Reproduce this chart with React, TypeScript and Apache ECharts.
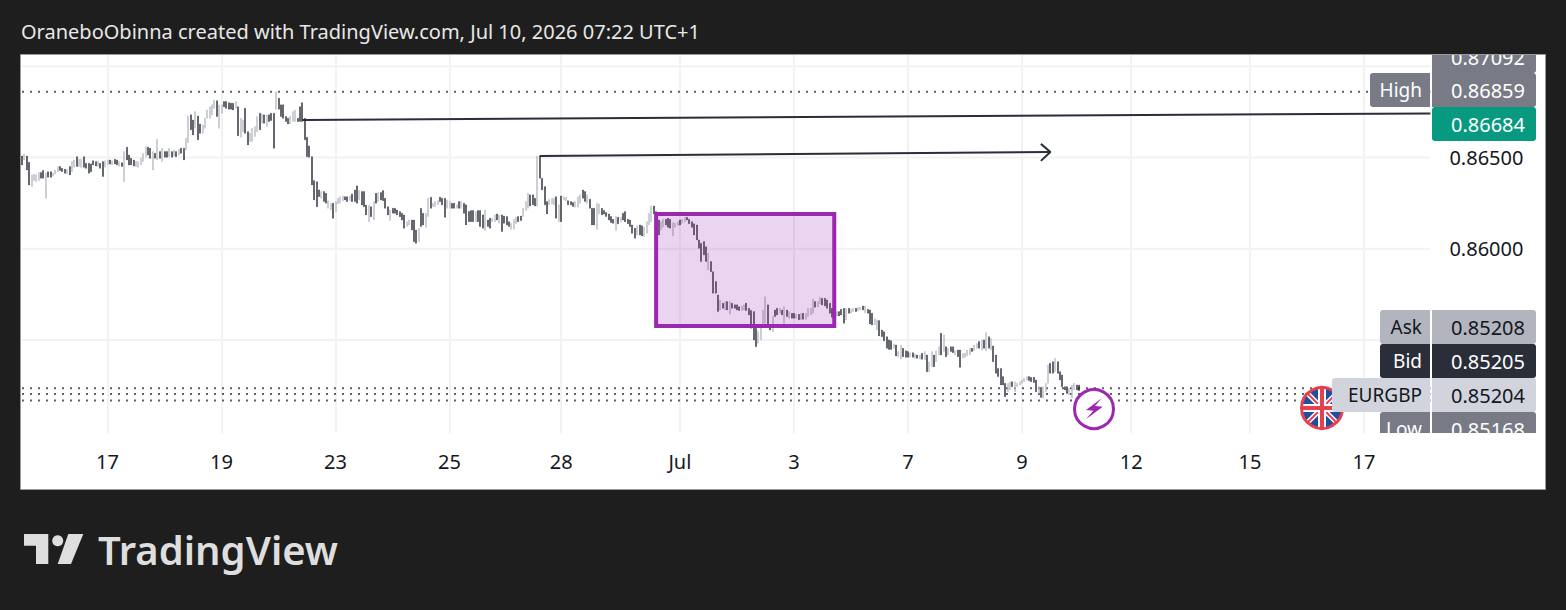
import React, { useEffect, useRef } from "react";
import * as echarts from "echarts";

// Prices in units of 0.00001
const opens = [
86508,86486,86508,86473,86340,86373,86367,86373,86417,86428,86276,86422,86422,86398,86409,86422,86450,86440,86435,86409,
86450,86422,86446,86504,86450,86446,86504,86468,86468,86464,86482,86477,86450,86468,86477,86446,86459,86486,86459,86490,
86486,86450,86471,86367,86556,86513,86495,86486,86450,86446,86459,86477,86504,86556,86550,86431,86523,86486,86532,86477,
86532,86532,86504,86532,86508,86532,86513,86550,86550,86541,86581,86733,86705,86660,86727,86683,86632,86660,86714,86714,
86733,86769,86811,86660,86742,86806,86806,86800,86797,86797,86769,86778,86610,86641,86769,86641,86587,86587,86614,86641,
86742,86687,86733,86669,86733,86742,86742,86764,86824,86788,86788,86724,86714,86683,86696,86696,86714,86778,86800,86714,
86610,86563,86504,86373,86367,86322,86276,86313,86303,86221,86212,86249,86203,86245,86249,86263,86285,86285,86263,86300,
86322,86344,86267,86313,86313,86239,86148,86230,86157,86303,86258,86307,86318,86276,86230,86154,86221,86221,86212,86203,
86194,86185,86121,86130,86157,86157,86102,86038,86221,86194,86117,86176,86282,86231,86231,86240,86282,86276,86276,86221,
86221,86249,86249,86221,86258,86221,86249,86240,86203,86209,86209,86148,86209,86209,86185,86099,86157,86167,86148,
86148,86190,86139,86185,86179,86176,86148,86106,86106,86136,86176,86179,86176,86209,86221,86295,86295,86276,86234,86508,
86386,86340,86258,86240,86245,86240,86285,86148,86289,86267,86263,86263,86258,86253,86227,86227,86249,86322,86313,
86249,86271,86221,86221,86106,86190,86221,86209,86198,86190,86176,86161,86099,86172,86148,86194,86203,86161,86157,86130,
86112,86075,86130,86125,86066,86084,86130,86148,86234,86203,86157,86103,86117,86161,86167,86161,86070,86117,86125,
86157,86139,86148,86172,86161,86148,86136,86130,86048,86030,86039,86011,85883,85929,85874,85820,85746,85664,85701,85664,
85710,85642,85701,85692,85692,85682,85661,85664,85701,85673,85661,85655,85564,85482,85500,85573,85591,85692,85582,85545,
85664,85673,85646,85664,85591,85664,85619,85646,85646,85619,85640,85610,85646,85613,85628,85637,85646,85710,85682,85697,85728,85728,85719,
85701,85673,85655,85631,85655,85668,85673,85609,85673,85646,85655,85673,85660,85664,85686,85649,85668,85664,85646,85582,
85554,85606,85554,85545,85518,85500,85496,85454,85472,85408,85394,85454,85441,85436,85405,85430,85399,85417,85394,
85427,85390,85417,85326,85353,85417,85381,85417,85536,85436,85463,85417,85463,85463,85417,85445,85445,85399,85405,85412,
85417,85454,85441,85454,85491,85445,85500,85441,85518,85445,85467,85417,85344,85344,85299,85262,85216,85226,85271,
85216,85244,85253,85262,85271,85280,85299,85295,85295,85280,85207,85240,85180,85216,85262,85372,85381,85326,85381,85326,
85308,85244,85244,85198,85180,85226,85253,85253,
];
const closes = [
86459,86519,86431,86349,86404,86409,86404,86417,86386,86386,86413,86391,86391,86413,86431,86450,86428,86422,86413,86435,
86404,86477,86486,86450,86490,86490,86446,86440,86413,86422,86459,86453,86477,86440,86395,86482,86486,86464,86482,86464,
86459,86477,86450,86532,86486,86459,86459,86453,86477,86477,86495,86523,86559,86513,86495,86532,86495,86599,86495,86550,
86501,86501,86550,86501,86541,86504,86545,86523,86486,86605,86727,86651,86623,86751,86596,86632,86678,86714,86760,86778,
86788,86815,86724,86788,86788,86778,86769,86764,86764,86760,86806,86618,86714,86705,86632,86568,86632,86660,86669,86724,
86651,86738,86687,86733,86696,86702,86550,86859,86764,86724,86714,86696,86683,86724,86751,86760,86696,86696,86696,86596,
86504,86501,86349,86267,86230,86285,86313,86258,86249,86263,86249,86166,86258,86276,86285,86289,86267,86258,86289,86258,
86258,86249,86318,86239,86230,86185,86239,86175,86258,86249,86307,86267,86263,86221,86185,86212,86194,86194,86185,86175,
86157,86112,86148,86157,86102,86038,86029,86112,86121,86130,86194,86276,86221,86249,86258,86263,86258,86240,86172,86267,
86258,86221,86221,86240,86221,86258,86194,86130,86148,86148,86148,86203,86148,86121,86112,86212,86121,86112,86167,
86185,86157,86185,86094,86139,86130,86121,86139,86161,86172,86148,86154,86221,86258,86304,86234,86240,86234,86508,86386,
86322,86240,86190,86271,86276,86276,86167,86240,86148,86285,86282,86240,86240,86231,86258,86285,86295,86276,86258,
86295,86221,86130,86130,86249,86245,86185,86190,86176,86157,86143,86139,86176,86136,86172,86157,86148,86136,86121,86084,
86057,86125,86075,86070,86117,86148,86194,86234,86190,86148,86075,86148,86161,86130,86117,86112,86143,86139,86148,
86130,86161,86172,86157,86136,86117,86075,86048,86002,85929,85966,85929,85975,85874,85756,85756,85655,85719,85673,85710,
85664,85710,85673,85673,85664,85661,85686,85692,85661,85637,85564,85500,85463,85546,85573,85664,85737,85582,85555,85628,
85628,85637,85673,85637,85682,85628,85655,85619,85619,85640,85610,85646,85613,85646,85673,85673,85723,85679,85710,85734,85691,85686,85673,
85646,85624,85628,85655,85631,85637,85591,85673,85646,85668,85673,85655,85677,85679,85664,85686,85646,85587,85582,85618,
85609,85522,85518,85496,85454,85448,85448,85478,85412,85436,85472,85408,85405,85405,85430,85405,85423,85399,85417,
85394,85436,85326,85381,85436,85353,85441,85463,85417,85527,85408,85454,85436,85430,85441,85408,85350,85427,85427,85445,
85454,85436,85472,85481,85454,85500,85454,85540,85454,85509,85381,85317,85299,85253,85253,85189,85262,85271,85244,
85271,85262,85271,85280,85290,85299,85277,85271,85266,85216,85244,85185,85244,85262,85363,85317,85317,85399,85317,85280,
85244,85226,85207,85235,85253,85262,85226,85222,
];

const timeTickIndexes = [36, 84, 132, 180, 227, 277, 325, 373, 421, 467, 517, 565];
const timeTickLabels = ["17", "19", "23", "25", "28", "Jul", "3", "7", "9", "12", "15", "17"];
const categoryCount = 594;

const priceGridLevels = [0.87, 0.865, 0.86, 0.855];
const priceLabelLevels = [0.865, 0.86];
const dottedLevels = [0.86859, 0.85235, 0.85204, 0.85168];

const boxCorners = [267, 0.8619, 342, 0.85576];
const longLine = [[118, 0.86705], [593, 0.86741]];
const arrowLine = [[218, 0.86508], [433, 0.8653]];
const arrowHead = [[429, 0.86574], [433, 0.8653], [429, 0.86481]];

const tagRows = [
  { label: "Ask", value: "0.85208", y: 310, h: 34, fill: "#b2b5be", text: "#131722", lx: 1380 },
  { label: "Bid", value: "0.85205", y: 344, h: 34, fill: "#2a2e39", text: "#ffffff", lx: 1380 },
  { label: "EURGBP", value: "0.85204", y: 378, h: 34, fill: "#d1d4dc", text: "#131722", lx: 1332 },
  { label: "Low", value: "0.85168", y: 412, h: 34, fill: "#787b86", text: "#ffffff", lx: 1380 },
  { label: "High", value: "0.86859", y: 73, h: 34, fill: "#787b86", text: "#ffffff", lx: 1370 },
];

const FONT = '"Noto Sans"';

function txt(text: string, x: number, y: number, size: number, fill: string, align = "left", z = 100, weight = "normal") {
  return {
    type: "text",
    z,
    silent: true,
    style: {
      text, x, y, fill,
      font: `${weight} ${size}px ${FONT}`,
      textAlign: align, align,
      textVerticalAlign: "middle", verticalAlign: "middle",
    },
  };
}

function App() {
  const ref = useRef<HTMLDivElement>(null);

  useEffect(() => {
    document.body.style.margin = "0";
    const chart = echarts.init(ref.current!, null, { renderer: "svg" });

    const categories = Array.from({ length: categoryCount }, (_, i) => {
      const k = timeTickIndexes.indexOf(i);
      return k >= 0 ? timeTickLabels[k] : "";
    });
    const showTick = (i: number) => timeTickIndexes.indexOf(i) >= 0;

    const candles = opens.map((o, i) => {
      const c = closes[i];
      return [o / 1e5, c / 1e5, Math.min(o, c) / 1e5, Math.max(o, c) / 1e5];
    });

    const line = (data: number[][], lineStyle: any, z: number) => ({
      type: "line", data, symbol: "none", showSymbol: false, silent: true, z, lineStyle,
    });

    const tagGraphics: any[] = [];
    tagRows.forEach((t) => {
      tagGraphics.push({ type: "rect", z: 90, silent: true, shape: { x: t.lx, y: t.y, width: 1430 - t.lx, height: t.h, r: [3, 0, 0, 3] }, style: { fill: t.fill } });
      tagGraphics.push({ type: "rect", z: 90, silent: true, shape: { x: 1432, y: t.y, width: 104, height: t.h, r: [0, 3, 3, 0] }, style: { fill: t.fill } });
      tagGraphics.push(txt(t.label, 1422, t.y + 17, 19, t.text, "right"));
      tagGraphics.push(txt(t.value, 1525, t.y + 17, 20, t.text, "right"));
    });

    const fc = { x: 1322, y: 408 };
    const flagLine = (x1: number, y1: number, x2: number, y2: number, stroke: string, w: number) => ({
      type: "line", z: 40, silent: true,
      shape: { x1: fc.x + x1, y1: fc.y + y1, x2: fc.x + x2, y2: fc.y + y2 },
      style: { stroke, lineWidth: w },
    });

    chart.setOption({
      animation: false,
      backgroundColor: "#1e1e1e",
      grid: { left: 22, width: 1408.4, top: 55, height: 378, containLabel: false },
      xAxis: {
        type: "category",
        data: categories,
        boundaryGap: false,
        axisLine: { show: false },
        axisTick: { show: false },
        axisLabel: {
          interval: (i: number) => showTick(i),
          margin: 18,
          color: "#131722",
          fontFamily: FONT,
          fontSize: 20,
          hideOverlap: false,
        },
        splitLine: {
          show: true,
          interval: (i: number) => showTick(i),
          lineStyle: { color: "#f2f2f2", width: 2 },
        },
      },
      yAxis: {
        type: "value",
        position: "right",
        min: 0.8499,
        max: 0.87061,
        axisLine: { show: false },
        axisTick: { show: false },
        splitLine: { show: false },
        axisLabel: {
          customValues: priceLabelLevels,
          formatter: (v: number) => v.toFixed(5),
          margin: 19,
          color: "#131722",
          fontFamily: FONT,
          fontSize: 20,
        },
      },
      series: [
        ...priceGridLevels.map((v) => line([[0, v], [593, v]], { color: "#f2f2f2", width: 2 }, 1)),
        ...dottedLevels.map((v) => line([[0, v], [593, v]], { color: "#5d606b", width: 2, type: [2, 6] }, 1)),
        {
          type: "candlestick",
          data: candles,
          barWidth: 1.5,
          z: 3,
          silent: true,
          itemStyle: { color: "#b2b5be", color0: "#131722", borderColor: "#b2b5be", borderColor0: "#131722", borderWidth: 0.3 },
        },
        {
          type: "custom",
          z: 5,
          silent: true,
          clip: false,
          data: [boxCorners],
          encode: { x: 0, y: 1 },
          renderItem: (_: any, api: any) => {
            const a = api.coord([api.value(0), api.value(1)]);
            const b = api.coord([api.value(2), api.value(3)]);
            return {
              type: "rect",
              shape: { x: a[0], y: a[1], width: b[0] - a[0], height: b[1] - a[1] },
              style: { fill: "rgba(156,39,176,0.2)", stroke: "#9c27b0", lineWidth: 4 },
            };
          },
        },
        line(longLine, { color: "#2a2e39", width: 2 }, 6),
        line(arrowLine, { color: "#2a2e39", width: 2 }, 6),
        line(arrowHead, { color: "#2a2e39", width: 2 }, 6),
      ],
      graphic: [
        { type: "rect", z: -5, silent: true, shape: { x: 20.5, y: 54.5, width: 1525, height: 435 }, style: { fill: "#ffffff", stroke: "#9a9a9a", lineWidth: 1 } },
        txt("OraneboObinna created with TradingView.com, Jul 10, 2026 07:22 UTC+1", 21, 31, 20, "#e8e8e8", "left"),

        // flash icon
        { type: "circle", z: 40, silent: true, shape: { cx: 1094, cy: 409, r: 19.5 }, style: { fill: "#ffffff", stroke: "#9c27b0", lineWidth: 3 } },
        { type: "polygon", z: 41, silent: true, shape: { points: [[1101.7, 398.3], [1086, 410], [1093.3, 410.7], [1086, 419.3], [1102.7, 406.7], [1095, 406]] }, style: { fill: "#9c27b0" } },

        // flag icon
        { type: "circle", z: 39, silent: true, shape: { cx: fc.x, cy: fc.y, r: 20 }, style: { fill: "#1f4f9e" } },
        flagLine(-14, -14, 14, 14, "#ffffff", 5),
        flagLine(-14, 14, 14, -14, "#ffffff", 5),
        flagLine(-14, -14, 14, 14, "#e5404e", 2),
        flagLine(-14, 14, 14, -14, "#e5404e", 2),
        flagLine(-20, 0, 20, 0, "#ffffff", 8),
        flagLine(0, -20, 0, 20, "#ffffff", 8),
        flagLine(-20, 0, 20, 0, "#e5404e", 4),
        flagLine(0, -20, 0, 20, "#e5404e", 4),
        { type: "circle", z: 42, silent: true, shape: { cx: fc.x, cy: fc.y, r: 20.5 }, style: { fill: "none", stroke: "#e5404e", lineWidth: 3 } },

        // price tags
        { type: "rect", z: 90, silent: true, shape: { x: 1432, y: 40, width: 104, height: 33, r: [0, 3, 3, 0] }, style: { fill: "#787b86" } },
        txt("0.87092", 1525, 57, 20, "#ffffff", "right"),
        ...tagGraphics,
        { type: "rect", z: 91, silent: true, shape: { x: 1432, y: 107, width: 104, height: 34, r: 3 }, style: { fill: "#089981" } },
        txt("0.86684", 1525, 124, 20, "#ffffff", "right"),

        // clipping of tags at the pane's edges
        { type: "rect", z: 120, silent: true, shape: { x: 1365, y: 36, width: 176, height: 18 }, style: { fill: "#1e1e1e" } },
        { type: "line", z: 121, silent: true, shape: { x1: 1365, y1: 54.5, x2: 1541, y2: 54.5 }, style: { stroke: "#9a9a9a", lineWidth: 1 } },
        { type: "rect", z: 120, silent: true, shape: { x: 1375, y: 433, width: 165, height: 20 }, style: { fill: "#ffffff" } },

        // TradingView logo
        { type: "polygon", z: 100, silent: true, shape: { points: [[24, 534], [48.3, 534], [48.3, 564], [36, 564], [36, 545.7], [24, 545.7]] }, style: { fill: "#dedede" } },
        { type: "circle", z: 100, silent: true, shape: { cx: 57.7, cy: 540.7, r: 5.5 }, style: { fill: "#dedede" } },
        { type: "polygon", z: 100, silent: true, shape: { points: [[68.3, 534], [83.3, 534], [71, 564], [57.7, 564]] }, style: { fill: "#dedede" } },
        txt("TradingView", 98, 549, 40, "#dedede", "left", 100, "600"),
      ],
    });

    return () => chart.dispose();
  }, []);

  return <div ref={ref} style={{ position: "absolute", left: 0, top: 0, width: 1566, height: 610, background: "#1e1e1e" }} />;
}

export default App;
